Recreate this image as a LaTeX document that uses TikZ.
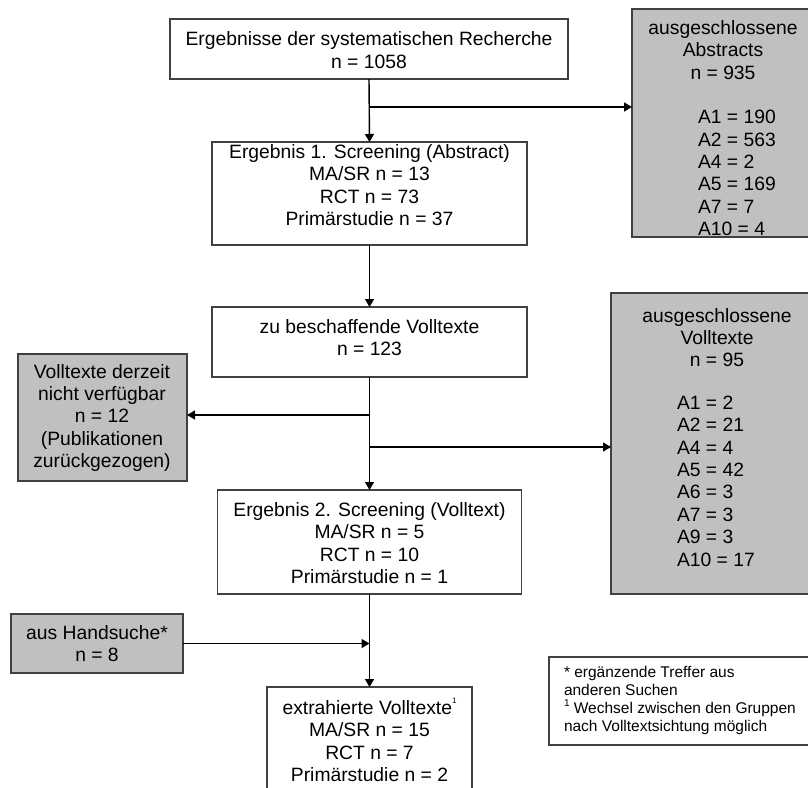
\documentclass[tikz,border=0pt]{standalone}
\usepackage{fontspec}
\setmainfont{Liberation Sans}
\usetikzlibrary{arrows.meta}
\definecolor{boxgrey}{HTML}{C0C0C0}
\definecolor{edge}{HTML}{404040}
% small raised footnote mark
\newcommand{\supone}[2]{\raisebox{#2}[0pt][0pt]{\fontsize{#1}{#1}\selectfont 1}}
\begin{document}
\begin{tikzpicture}[x=1pt,y=-1pt,
  every node/.style={inner sep=0pt, outer sep=0pt},
  box/.style={draw=edge, line width=1.4pt, rectangle},
  whitebox/.style={box, fill=white},
  greybox/.style={box, fill=boxgrey},
  txt/.style={align=center, font=\fontsize{19.3}{22.4}\selectfont},
  ltxt/.style={align=left, font=\fontsize{19.3}{22.4}\selectfont},
  notetxt/.style={align=left, font=\fontsize{15.5}{18}\selectfont},
  flow/.style={line width=1.4pt, -{Triangle[length=8pt,width=9pt]}},
  link/.style={line width=1.4pt}]
\useasboundingbox (0,0) rectangle (808,787);

% main column
\node[whitebox, minimum width=398pt, minimum height=60pt] (rech) at (369,49) {};
\node[txt] (rechT) at (369,50) {Ergebnisse der systematischen Recherche\\n = 1058};

\node[whitebox, minimum width=315pt, minimum height=103pt] (scr1) at (369.5,193.5) {};
\node[txt] (scr1T) at (369.5,185) {Ergebnis 1. Screening (Abstract)\\MA/SR n = 13\\RCT n = 73\\Primärstudie n = 37};

\node[whitebox, minimum width=315pt, minimum height=70pt] (besch) at (369.5,342) {};
\node[txt] (beschT) at (369.5,337.5) {zu beschaffende Volltexte\\n = 123};

\node[whitebox, minimum width=304pt, minimum height=104pt] (scr2) at (369.5,542) {};
\node[txt] (scr2T) at (369.5,543) {Ergebnis 2. Screening (Volltext)\\MA/SR n = 5\\RCT n = 10\\Primärstudie n = 1};

\node[whitebox, minimum width=205pt, minimum height=110pt] (extr) at (369.5,742) {};
\node[txt] (extrT) at (369.5,741) {extrahierte Volltexte\supone{8}{0.55em}\\MA/SR n = 15\\RCT n = 7\\Primärstudie n = 2};

% side boxes
\node[greybox, minimum width=182pt, minimum height=228pt] (abs) at (723,123) {};
\node[txt] (absH) at (723,50) {ausgeschlossene\\Abstracts\\n = 935};
\node[ltxt, anchor=west] (absL) at (698,173) {A1 = 190\\A2 = 563\\A4 = 2\\A5 = 169\\A7 = 7\\A10 = 4};

\node[greybox, minimum width=212pt, minimum height=301pt] (exv) at (717,443.5) {};
\node[txt] (exvH) at (717,337.5) {ausgeschlossene\\Volltexte\\n = 95};
\node[ltxt, anchor=west] (exvL) at (677,481) {A1 = 2\\A2 = 21\\A4 = 4\\A5 = 42\\A6 = 3\\A7 = 3\\A9 = 3\\A10 = 17};

\node[greybox, minimum width=169pt, minimum height=127pt] (nv) at (102.5,417.5) {};
\node[txt] (nvT) at (102,418) {Volltexte derzeit\\nicht verfügbar\\n = 12\\(Publikationen\\zurückgezogen)};

\node[greybox, minimum width=172pt, minimum height=59pt] (hand) at (97,643.5) {};
\node[txt] (handT) at (97,643.5) {aus Handsuche*\\n = 8};

\node[whitebox, minimum width=263pt, minimum height=88pt] (note) at (680.5,701) {};
\node[notetxt, anchor=west] (noteT) at (564,700) {* ergänzende Treffer aus\\anderen Suchen\\\supone{10}{0.4em}\ Wechsel zwischen den Gruppen\\nach Volltextsichtung möglich};

% connectors
\coordinate (a1) at (369.5,107);
\coordinate (b1) at (369.5,415);
\coordinate (b2) at (369.5,447);

\draw[flow] (rech.south) -- (scr1.north);
\draw[flow] (a1) -- (a1 -| abs.west);
\draw[flow] (scr1.south) -- (besch.north);
\draw[flow] (besch.south) -- (scr2.north);
\draw[flow] (b1) -- (b1 -| nv.east);
\draw[flow] (b2) -- (b2 -| exv.west);
\draw[flow] (scr2.south) -- (extr.north);
\draw[flow] (hand.east) -- (hand.east -| scr2.south);
\end{tikzpicture}
\end{document}
